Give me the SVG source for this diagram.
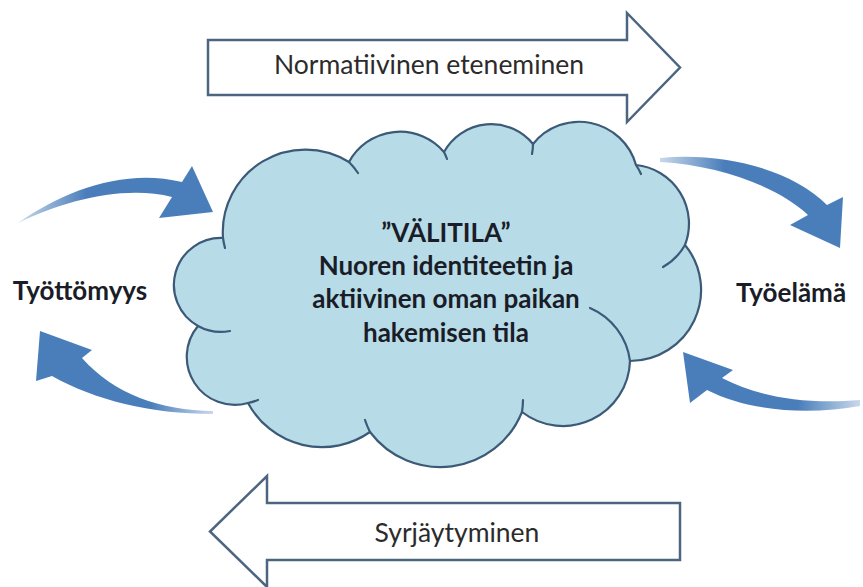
<svg xmlns="http://www.w3.org/2000/svg" width="863" height="587" viewBox="0 0 863 587">
<defs>
<style>
.blk{fill:#ffffff;stroke:#4d6580;stroke-width:2.5;stroke-linejoin:miter}
.blktxt{font-family:Lato,"Liberation Sans",sans-serif;font-size:26.5px;fill:#2b2b2b;text-anchor:middle}
.bold{font-family:Lato,"Liberation Sans",sans-serif;font-weight:bold;font-size:26px;fill:#1a1d28;text-anchor:middle}
.cloud{fill:#b7dbe7;stroke:#3c5a78;stroke-width:2.2;stroke-linejoin:round}
.tail{fill:none;stroke:#3c5a78;stroke-width:2.2;stroke-linecap:round}
</style>
<linearGradient id="gL2R" x1="0" y1="0" x2="1" y2="0">
<stop offset="0" stop-color="#4a7ebb" stop-opacity="0.3"/>
<stop offset="0.35" stop-color="#4a7ebb" stop-opacity="1"/>
</linearGradient>
<linearGradient id="gR2L" x1="1" y1="0" x2="0" y2="0">
<stop offset="0" stop-color="#4a7ebb" stop-opacity="0.3"/>
<stop offset="0.35" stop-color="#4a7ebb" stop-opacity="1"/>
</linearGradient>
</defs>
<rect width="863" height="587" fill="#ffffff"/>

<g id="normatiivinen">
<path class="blk" d="M208,40 H627 V13 L680,67.5 L627,122 V95 H208 Z"/>
<text class="blktxt" x="429" y="74">Normatiivinen eteneminen</text>
</g>

<g id="syrjaytyminen">
<path class="blk" d="M680,503 H267 V476 L210,531.5 L267,587 V560 H680 Z"/>
<text class="blktxt" x="457" y="542">Syrjäytyminen</text>
</g>

<g id="valitila">
<path class="cloud" d="M223,238 A82.6,82.6 0 0 1 349,162 A58,58 0 0 1 444,152 A54,54 0 0 1 533,144 A59,59 0 0 1 636,165 A59,59 0 0 1 685,245 A71,71 0 0 1 630,361 A67,67 0 0 1 522,412 A88,88 0 0 1 370,432 A84,84 0 0 1 248,403 A48,48 0 0 1 198,326 A47,47 0 0 1 223,238 Z"/>
<path class="tail" d="M225,248 A82.6,82.6 0 0 1 223,238 M349,162 A82.6,82.6 0 0 1 358,173 M444,152 A58,58 0 0 1 447,159 M533,144 A54,54 0 0 1 532,154 M636,165 A59,59 0 0 1 641,174 M685,245 A59,59 0 0 1 663,267 M590,308 A67,67 0 0 1 630,361 M523,400 A88,88 0 0 1 522,412 M370,432 A88,88 0 0 1 365,420 M258,400 A48,48 0 0 1 248,403 M230,331 A47,47 0 0 1 198,326"/>
<text class="bold" x="446" y="242">”VÄLITILA”</text>
<text class="bold" x="446" y="275">Nuoren identiteetin ja</text>
<text class="bold" x="446" y="308">aktiivinen oman paikan</text>
<text class="bold" x="446" y="342">hakemisen tila</text>
</g>

<g id="tyottomyys">
<text class="bold" x="80" y="300">Työttömyys</text>
</g>

<g id="tyoelama">
<text class="bold" x="791" y="302">Työelämä</text>
</g>

<g id="connectors">
<path fill="url(#gL2R)" d="M18,223 C65,190 125,168 182,182 L192,166 L213,212 L159,218 L172,197 C125,185 65,200 18,223 Z"/>
<path fill="url(#gR2L)" d="M213,411 C160,410 115,395 82,358 L92,350 L40,331 L36,381 L52,376 C95,400 150,414 213,414 Z"/>
<path fill="url(#gL2R)" d="M660,158 C720,152 790,168 827,205 L843,197 L840,248 L790,225 L808,215 C780,188 720,165 660,162 Z"/>
<path fill="url(#gR2L)" d="M860,400 C800,405 755,395 722,378 L733,370 L683,352 L690,403 L707,390 C750,412 810,415 860,406 Z"/>
</g>
</svg>
